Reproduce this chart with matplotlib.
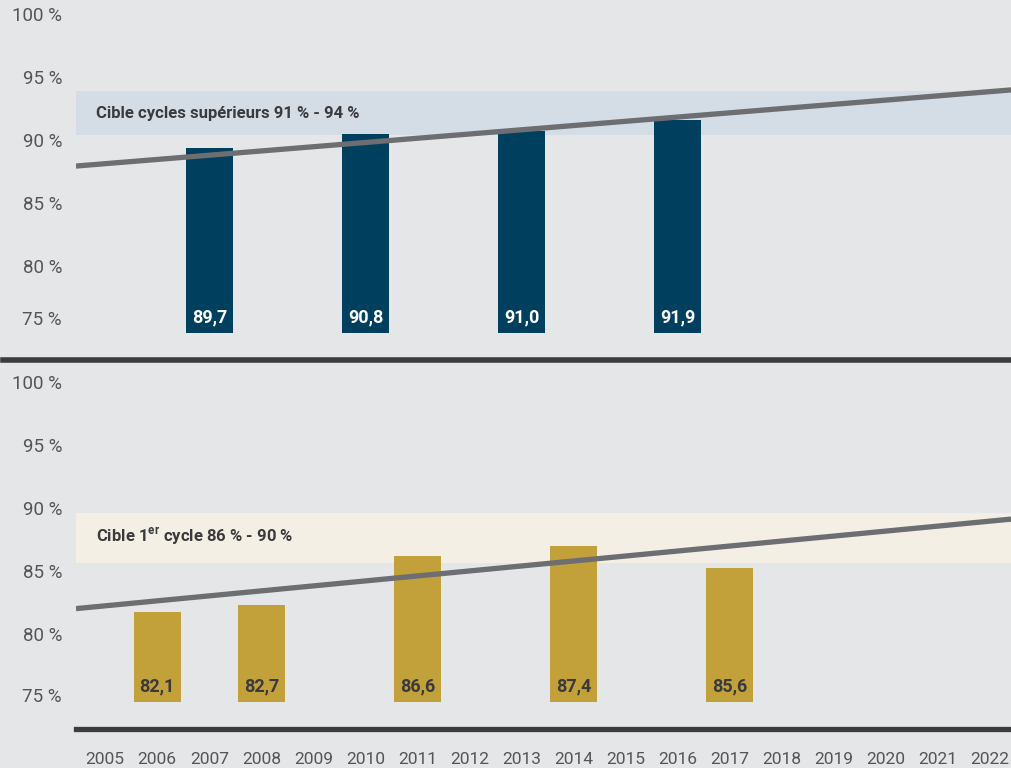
import matplotlib
matplotlib.use('Agg')
import matplotlib.pyplot as plt
from matplotlib.lines import Line2D
from matplotlib.transforms import ScaledTranslation


# data
years = list(range(2005, 2023))
years_sup = [2007, 2010, 2013, 2016]
taux_sup = [89.7, 90.8, 91.0, 91.9]
years_1er = [2006, 2008, 2011, 2014, 2017]
taux_1er = [82.1, 82.7, 86.6, 87.4, 85.6]
cible_sup = (90.7, 94.2)     # band as drawn
cible_1er = (86.0, 90.0)
trend_sup = (88.25, 94.3)    # value at left / right edge
trend_1er = (82.4, 89.5)
ytick_vals = [100, 95, 90, 85, 80, 75]
ytick_labels = ['100 %', '95 %', '90 %', '85 %', '80 %', '75 %']

BG = '#e5e6e8'
NAVY = '#003f5e'
GOLD = '#c2a03a'
LINE = '#6d6e71'
DARK = '#3c3c3e'
TXT = '#555558'
LABEL = '#3a3a3c'

plt.rcParams['font.family'] = ['Roboto', 'DejaVu Sans']
plt.rcParams['mathtext.fontset'] = 'custom'
plt.rcParams['mathtext.bf'] = 'Roboto:bold'
plt.rcParams['mathtext.rm'] = 'Roboto'

W, H = 1012, 768
fig = plt.figure(figsize=(W / 100, H / 100), dpi=100, facecolor=BG)

XMIN, XMAX = 2004.44, 2022.42


def px_axes(top, bottom):
  return fig.add_axes([76 / W, 1 - bottom / H, (W - 76) / W, (bottom - top) / H])


def shift(dy):
  return ScaledTranslation(0, dy / 100, fig.dpi_scale_trans)


def style(ax, ytop, offsets):
  ax.set_facecolor(BG)
  ax.set_xlim(XMIN, XMAX)
  ax.set_ylim(75, ytop)
  for s in ax.spines.values():
    s.set_visible(False)
  ax.set_yticks(ytick_vals)
  ax.set_yticklabels(ytick_labels)
  ax.tick_params(axis='y', length=0, pad=10, labelsize=13.5, labelcolor=TXT)
  for lab, off in zip(ax.get_yticklabels(), offsets):
    lab.set_transform(lab.get_transform() + shift(off))


def value_labels(ax, xs, vals, color):
  for x, v in zip(xs, vals):
    t = f'{v:.1f}'.replace('.', ',')
    ax.text(x, 75, t, ha='center', va='bottom', color=color, fontsize=13,
            fontweight='bold', transform=ax.transData + shift(7))


# top panel: cycles supérieurs
ax1 = px_axes(0, 333)
style(ax1, 101.43, [4, 4, 4, 4, 4, 15])
ax1.axhspan(cible_sup[0], cible_sup[1], color='#d4dce5', lw=0, zorder=0)
ax1.bar(years_sup, [v - 75 for v in taux_sup], bottom=75, width=0.9, color=NAVY, zorder=2)
ax1.plot([XMIN, XMAX], trend_sup, color=LINE, lw=3.8, zorder=3, solid_capstyle='butt')
value_labels(ax1, years_sup, taux_sup, 'white')
ax1.text(2004.82, sum(cible_sup) / 2, 'Cible cycles supérieurs 91 % - 94 %', va='center',
         ha='left', fontsize=12, fontweight='bold', color=LABEL, zorder=4)
ax1.set_xticks([])

# bottom panel: 1er cycle
ax2 = px_axes(370, 702)
style(ax2, 101.31, [4.5, 4.5, 4.5, 4.5, 4.5, 7])
ax2.axhspan(cible_1er[0], cible_1er[1], color='#f4efe5', lw=0, zorder=0)
ax2.bar(years_1er, [v - 75 for v in taux_1er], bottom=75, width=0.9, color=GOLD, zorder=2)
ax2.plot([XMIN, XMAX], trend_1er, color=LINE, lw=3.8, zorder=3, solid_capstyle='butt')
value_labels(ax2, years_1er, taux_1er, LABEL)
ax2.text(2004.82, sum(cible_1er) / 2 + 0.15, r'Cible 1$^{\mathbf{er}}$ cycle 86 % - 90 %', va='center',
         ha='left', fontsize=12, fontweight='bold', color=LABEL, zorder=4)
ax2.set_xticks(years)
ax2.set_xticklabels([str(y) for y in years])
ax2.tick_params(axis='x', length=0, pad=36, labelsize=12.5, labelcolor=TXT)

# separators
fig.add_artist(Line2D([3 / W, 1], [1 - 360 / H] * 2, lw=4, color=DARK))
fig.add_artist(Line2D([76 / W, 1], [1 - 728.5 / H] * 2, lw=3.8, color=DARK))

fig.savefig('out.png', dpi=100, facecolor=BG)
